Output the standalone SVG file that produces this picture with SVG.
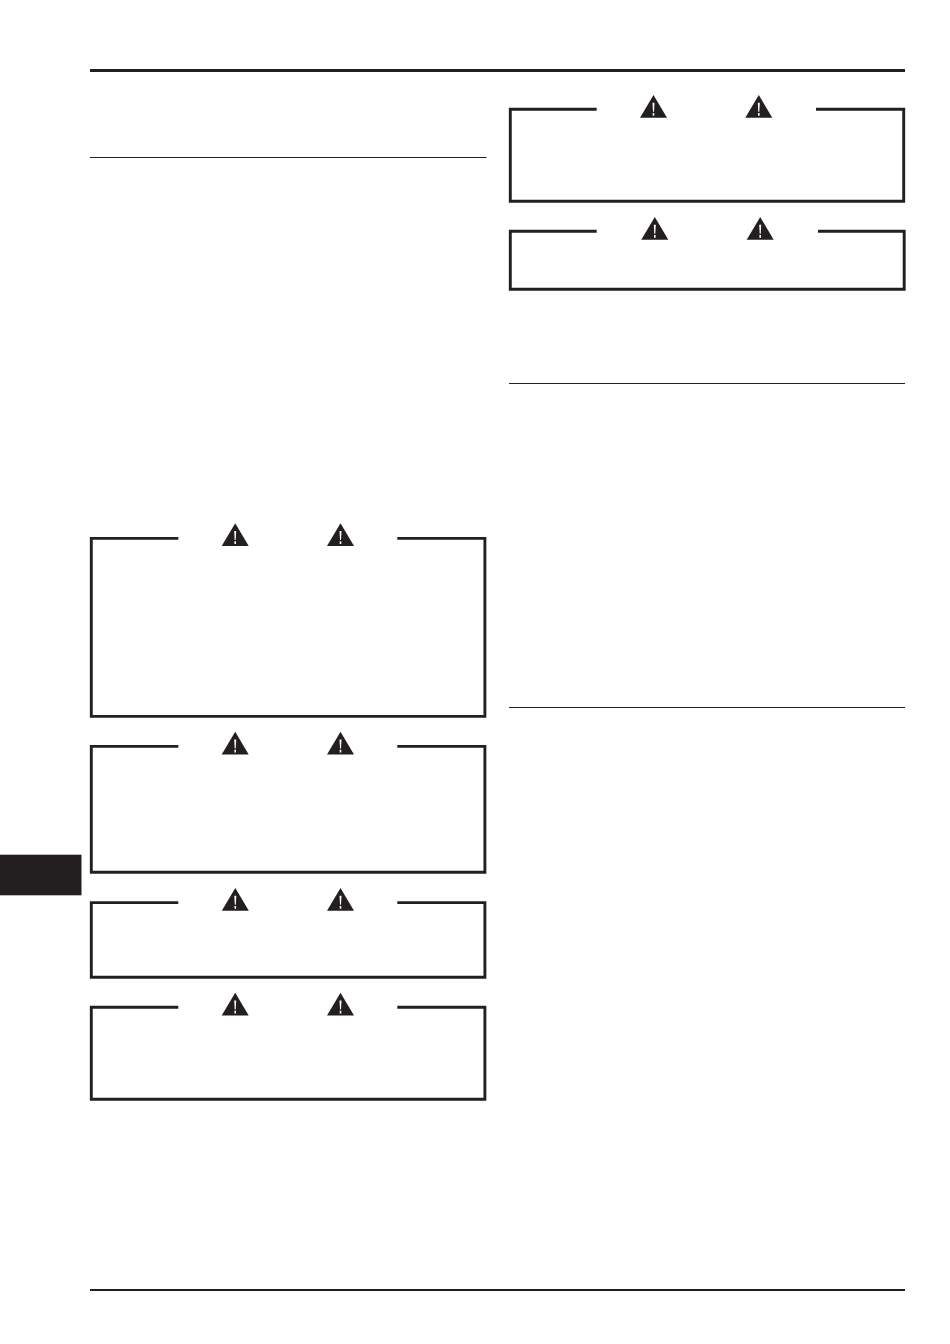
<svg xmlns="http://www.w3.org/2000/svg" width="950" height="1344" viewBox="0 0 950 1344">
<style>
.rule{stroke:#231f20;fill:none}
.frame{stroke:#231f20;stroke-width:2.9;fill:none;stroke-linecap:butt;stroke-linejoin:miter}
.tri{fill:#231f20}
.bang{fill:#fff}
</style>
<defs>
<g id="warn">
<path class="tri" d="M13.500 0L27 22.700H0Z"/>
<path class="bang" d="M12.500 7.700H14.500L14 16.800H13ZM12.700 18H14.300V20.800H12.700Z"/>
</g>
</defs>
<rect width="950" height="1344" fill="#fff"/>
<g id="rules">
<line class="rule" x1="90" y1="70.500" x2="905" y2="70.500" stroke-width="3"/>
<line class="rule" x1="90" y1="157.500" x2="486.500" y2="157.500" stroke-width="1"/>
<line class="rule" x1="509" y1="383.500" x2="905" y2="383.500" stroke-width="1"/>
<line class="rule" x1="509" y1="707.500" x2="905" y2="707.500" stroke-width="1"/>
<line class="rule" x1="90" y1="1290" x2="905" y2="1290" stroke-width="2"/>
</g>
<rect id="tab" x="0" y="854.700" width="81.500" height="40.600" fill="#231f20"/>
<g id="box-a"><path class="frame" d="M178.300 538.400H91.300V716.400H484.900V538.400H397.300"/><use href="#warn" x="221.700" y="523.300"/><use href="#warn" x="327" y="523.300"/></g>
<g id="box-b"><path class="frame" d="M178.300 746.400H91.300V872.300H484.900V746.400H397.300"/><use href="#warn" x="221.700" y="731.800"/><use href="#warn" x="327" y="731.800"/></g>
<g id="box-c"><path class="frame" d="M178.300 902.600H91.300V977.300H484.900V902.600H397.300"/><use href="#warn" x="221.800" y="888"/><use href="#warn" x="327" y="888"/></g>
<g id="box-d"><path class="frame" d="M178.300 1007.300H91.300V1099.300H484.900V1007.300H397.300"/><use href="#warn" x="221.700" y="992.800"/><use href="#warn" x="327" y="992.800"/></g>
<g id="box-e"><path class="frame" d="M596.700 109.300H510.300V201.300H903.700V109.300H816"/><use href="#warn" x="640" y="95"/><use href="#warn" x="745.300" y="95"/></g>
<g id="box-f"><path class="frame" d="M596.700 231.300H510.300V289.300H904.200V231.300H818"/><use href="#warn" x="641.300" y="217"/><use href="#warn" x="746.700" y="217"/></g>
</svg>
